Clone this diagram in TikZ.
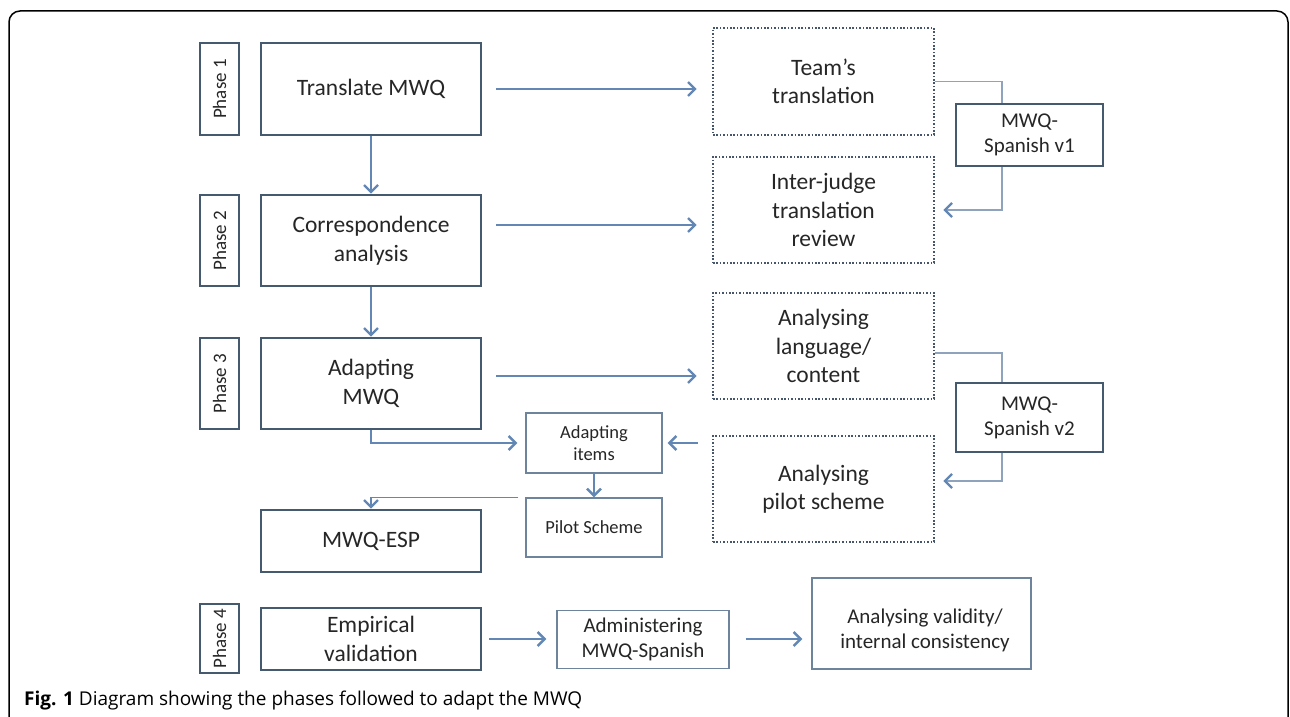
\documentclass[tikz,border=0pt]{standalone}
\usepackage{fontspec}
\setmainfont{Carlito}
\newfontfamily\capfont{Open Sans}
\usetikzlibrary{arrows.meta,calc}
\definecolor{boxc}{HTML}{45596F}
\definecolor{arrc}{HTML}{6387B5}
\definecolor{linc}{HTML}{8FA4BC}
\definecolor{dotc}{HTML}{46556A}
\definecolor{thinc}{HTML}{6E849C}
\definecolor{txtc}{HTML}{262626}
\begin{document}
\begin{tikzpicture}[x=1pt,y=-1pt,
  every node/.style={text=txtc,align=center,inner sep=0pt},
  mainbox/.style={draw=boxc,line width=2.6pt,font=\fontsize{23.5}{29}\selectfont},
  phasebox/.style={draw=boxc,line width=2.6pt,minimum width=39pt,font=\fontsize{19}{22}\selectfont},
  dotbox/.style={draw=dotc,line width=2.6pt,dash pattern=on 1.6pt off 1.8pt,minimum width=221pt,minimum height=106pt,font=\fontsize{23.5}{28.5}\selectfont},
  verbox/.style={draw=boxc,line width=2.3pt,minimum width=147pt,font=\fontsize{21}{25}\selectfont},
  thinbox/.style={draw=thinc,line width=1.4pt},
  arr/.style={draw=arrc,line width=1.6pt,-{Straight Barb[length=7pt,width=14pt,line width=2.4pt]}},
  lin/.style={draw=linc,line width=1.4pt},
  linarr/.style={draw=linc,line width=1.4pt,-{Straight Barb[length=7pt,width=14pt,line width=2.4pt,color=arrc]}}
]
\useasboundingbox (0,0) rectangle (1290,717);
\fill[white] (0,0) rectangle (1290,717);
\draw[line width=1.5pt,rounded corners=11pt] (9,740) -- (9,11) -- (1288,11) -- (1288,740);

% phase labels
\node[phasebox,minimum height=92pt] (p1) at (219.5,89) {\rotatebox{90}{Phase 1}};
\node[phasebox,minimum height=91pt] (p2) at (219.5,240.5) {\rotatebox{90}{Phase 2}};
\node[phasebox,minimum height=91pt] (p3) at (219.5,383.5) {\rotatebox{90}{Phase 3}};
\node[phasebox,minimum height=69pt] (p4) at (219.5,638.5) {\rotatebox{90}{Phase 4}};

% main column
\node[mainbox,minimum width=220pt,minimum height=92pt] (tr) at (371,89) {Translate MWQ};
\node[mainbox,minimum width=220pt,minimum height=91pt] (co) at (371,240.5) {Correspondence\\analysis};
\node[mainbox,minimum width=220pt,minimum height=91pt] (ad) at (371,383.5) {Adapting\\MWQ};
\node[mainbox,minimum width=220pt,minimum height=62pt] (esp) at (371,541) {MWQ-ESP};
\node[mainbox,minimum width=220pt,minimum height=62pt] (emp) at (371,639) {Empirical\\validation};

% dotted boxes
\node[dotbox,minimum height=107pt] (team) at (823.5,81.5) {Team's\\translation};
\node[dotbox] (inter) at (823.5,210) {Inter-judge\\translation\\review};
\node[dotbox] (lang) at (823.5,346) {Analysing\\language/\\content};
\node[dotbox] (pilA) at (823.5,489) {Analysing\\pilot scheme};

% version boxes
\node[verbox,minimum height=62pt] (v1) at (1029.5,135) {MWQ-\\Spanish v1};
\node[verbox,minimum height=69pt] (v2) at (1029.5,417.5) {MWQ-\\Spanish v2};

% small boxes
\node[thinbox,minimum width=136pt,minimum height=60pt,font=\fontsize{18.5}{22}\selectfont] (items) at (594,443) {Adapting\\items};
\node[thinbox,minimum width=136pt,minimum height=59pt,font=\fontsize{18.5}{22}\selectfont] (pilot) at (594,527.5) {Pilot Scheme};
\node[thinbox,minimum width=172pt,minimum height=58pt,font=\fontsize{21}{25}\selectfont] (admin) at (643,639.5) {Administering\\MWQ-Spanish};
\node[thinbox,minimum width=219pt,minimum height=91pt,font=\fontsize{21}{25}\selectfont] (valid) at (921.5,623.5) {};
\node[font=\fontsize{21}{25}\selectfont] (validt) at (925,630) {Analysing validity/\\internal consistency};

% vertical flow
\draw[arr] (tr.south) -- (co.north);
\draw[arr] (co.south) -- (ad.north);

% horizontal arrows
\draw[arr] ([xshift=14pt]tr.east) -- ([xshift=-15pt]team.west |- tr.east);
\coordinate (a2) at ([xshift=14pt,yshift=15.5pt]co.east);
\draw[arr] (a2) -- ([xshift=-15pt]inter.west |- a2);
\coordinate (a3) at ([xshift=14pt,yshift=7.5pt]ad.east);
\draw[arr] (a3) -- ([xshift=-15pt]lang.west |- a3);

% version loops
\draw[lin] (team.east) -| ([xshift=-27.5pt]v1.north);
\draw[linarr] ([xshift=-27.5pt]v1.south) |- ([xshift=8pt]inter.east);
\draw[lin] ([yshift=-7pt]lang.east) -| ([xshift=-27.5pt]v2.north);
\draw[linarr] ([xshift=-27.5pt]v2.south) |- ([xshift=8pt,yshift=8pt]pilA.east);

% phase 3 details
\draw[arr] (ad.south) |- ([xshift=-8pt]items.west);
\coordinate (a4) at ($(pilA.west |- items.east)+(-14,0)$);
\draw[arr] (a4) -- ([xshift=5pt]items.east);
\draw[arr] (items.south) -- (pilot.north);
\draw[arr] ([xshift=-7pt]pilot.north west) -| (esp.north);

% phase 4
\coordinate (a5) at ([xshift=7pt]emp.east);
\draw[arr] (a5) -- ([xshift=-10pt]admin.west |- a5);
\coordinate (a6) at ([xshift=16pt]admin.east |- a5);
\draw[arr] (a6) -- ([xshift=-9pt]valid.west |- a5);

% caption
\node[anchor=west,text=black,font=\capfont\fontsize{19}{22}\selectfont] (cap) at (24,701) {\textbf{Fig. 1} Diagram showing the phases followed to adapt the MWQ};
\end{tikzpicture}
\end{document}
